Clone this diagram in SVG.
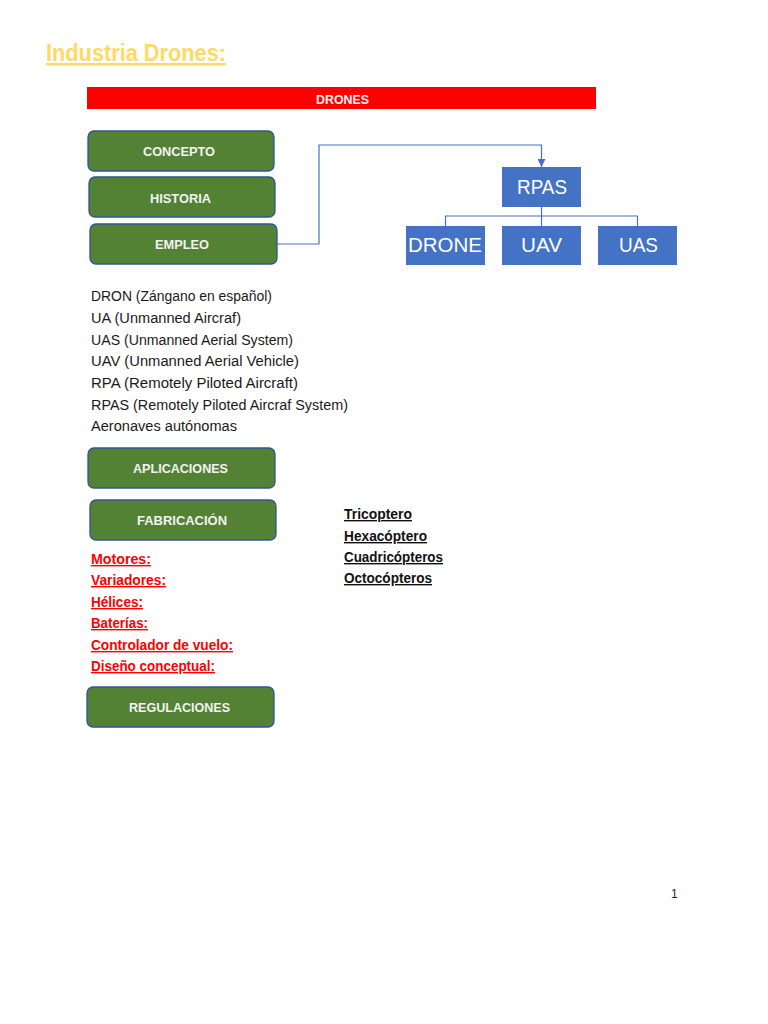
<svg xmlns="http://www.w3.org/2000/svg" width="768" height="1024" viewBox="0 0 768 1024">
<defs>
<style>
.g{fill:#548235;stroke:#2F5597;stroke-width:1.3}
.gt{font-family:"Liberation Sans",Arial,sans-serif;font-weight:bold;font-size:13px;fill:#F2F2F2;text-anchor:start}
.b{fill:#4472C4}
.bt{font-family:"Liberation Sans",Arial,sans-serif;font-size:21px;fill:#FFFFFF}
.lt{font-family:"Liberation Sans",Arial,sans-serif;font-size:14px;fill:#1a1a1a}
.rt{font-family:"Liberation Sans",Arial,sans-serif;font-size:14px;font-weight:bold;fill:#FF0000;text-decoration:underline}
.kt{font-family:"Liberation Sans",Arial,sans-serif;font-size:14px;font-weight:bold;fill:#111111;text-decoration:underline}
.ln{fill:none;stroke:#4472C4;stroke-width:1.2}
</style>
<marker id="arr" viewBox="0 0 10 10" refX="10" refY="5" markerWidth="8" markerHeight="8" markerUnits="userSpaceOnUse" orient="auto">
<path d="M0,0 L10,5 L0,10 z" fill="#4472C4"/>
</marker>
</defs>
<rect width="768" height="1024" fill="#FFFFFF"/>

<text x="46" y="61" font-family="Liberation Sans,Arial,sans-serif" font-size="24" font-weight="bold" fill="#FFD966" textLength="180" lengthAdjust="spacingAndGlyphs" text-decoration="underline">Industria Drones:</text>

<g id="drones-bar">
<rect x="87" y="87" width="509" height="22" fill="#FF0000"/>
<text x="316" y="104" font-family="Liberation Sans,Arial,sans-serif" font-size="12.5" font-weight="bold" fill="#F2F2F2" textLength="53" lengthAdjust="spacingAndGlyphs">DRONES</text>
</g>

<g id="concepto"><rect class="g" x="88" y="131" width="186" height="40" rx="6"/><text class="gt" x="143" y="156" textLength="72" lengthAdjust="spacingAndGlyphs">CONCEPTO</text></g>
<g id="historia"><rect class="g" x="89" y="177" width="186" height="40" rx="6"/><text class="gt" x="150" y="203" textLength="61" lengthAdjust="spacingAndGlyphs">HISTORIA</text></g>
<g id="empleo"><rect class="g" x="90" y="224" width="187" height="40" rx="6"/><text class="gt" x="155" y="249" textLength="54" lengthAdjust="spacingAndGlyphs">EMPLEO</text></g>

<g id="connectors">
<polyline class="ln" points="277,244 319,244 319,145 541.5,145 541.5,167" marker-end="url(#arr)"/>
<polyline class="ln" stroke-width="1.5" points="445.5,226 445.5,216 637.5,216 637.5,226"/>
<line class="ln" stroke-width="1.5" x1="541.5" y1="207" x2="541.5" y2="226"/>
</g>

<g id="rpas"><rect class="b" x="502" y="167" width="79" height="40"/><text class="bt" x="517" y="194" textLength="50" lengthAdjust="spacingAndGlyphs">RPAS</text></g>
<g id="drone"><rect class="b" x="406" y="226" width="79" height="39"/><text class="bt" x="408" y="252" textLength="74" lengthAdjust="spacingAndGlyphs">DRONE</text></g>
<g id="uav"><rect class="b" x="502" y="226" width="79" height="39"/><text class="bt" x="521" y="252" textLength="41" lengthAdjust="spacingAndGlyphs">UAV</text></g>
<g id="uas"><rect class="b" x="598" y="226" width="79" height="39"/><text class="bt" x="619" y="252" textLength="39" lengthAdjust="spacingAndGlyphs">UAS</text></g>

<g id="terms">
<text class="lt" x="91" y="301" textLength="181" lengthAdjust="spacingAndGlyphs">DRON (Zángano en español)</text>
<text class="lt" x="91" y="323" textLength="150" lengthAdjust="spacingAndGlyphs">UA (Unmanned Aircraf)</text>
<text class="lt" x="91" y="345" textLength="202" lengthAdjust="spacingAndGlyphs">UAS (Unmanned Aerial System)</text>
<text class="lt" x="91" y="366" textLength="208" lengthAdjust="spacingAndGlyphs">UAV (Unmanned Aerial Vehicle)</text>
<text class="lt" x="91" y="388" textLength="207" lengthAdjust="spacingAndGlyphs">RPA (Remotely Piloted Aircraft)</text>
<text class="lt" x="91" y="410" textLength="257" lengthAdjust="spacingAndGlyphs">RPAS (Remotely Piloted Aircraf System)</text>
<text class="lt" x="91" y="431" textLength="146" lengthAdjust="spacingAndGlyphs">Aeronaves autónomas</text>
</g>

<g id="aplicaciones"><rect class="g" x="88" y="448" width="187" height="40" rx="6"/><text class="gt" x="133" y="473" textLength="95" lengthAdjust="spacingAndGlyphs">APLICACIONES</text></g>
<g id="fabricacion"><rect class="g" x="90" y="500" width="186" height="40" rx="6"/><text class="gt" x="137" y="525" textLength="90" lengthAdjust="spacingAndGlyphs">FABRICACIÓN</text></g>

<g id="componentes">
<text class="rt" x="91" y="564" textLength="60" lengthAdjust="spacingAndGlyphs">Motores:</text>
<text class="rt" x="91" y="585" textLength="75" lengthAdjust="spacingAndGlyphs">Variadores:</text>
<text class="rt" x="91" y="607" textLength="52" lengthAdjust="spacingAndGlyphs">Hélices:</text>
<text class="rt" x="91" y="628" textLength="57" lengthAdjust="spacingAndGlyphs">Baterías:</text>
<text class="rt" x="91" y="650" textLength="142" lengthAdjust="spacingAndGlyphs">Controlador de vuelo:</text>
<text class="rt" x="91" y="671" textLength="124" lengthAdjust="spacingAndGlyphs">Diseño conceptual:</text>
</g>

<g id="tipos">
<text class="kt" x="344" y="519" textLength="68" lengthAdjust="spacingAndGlyphs">Tricoptero</text>
<text class="kt" x="344" y="541" textLength="83" lengthAdjust="spacingAndGlyphs">Hexacóptero</text>
<text class="kt" x="344" y="562" textLength="99" lengthAdjust="spacingAndGlyphs">Cuadricópteros</text>
<text class="kt" x="344" y="583" textLength="88" lengthAdjust="spacingAndGlyphs">Octocópteros</text>
</g>

<g id="regulaciones"><rect class="g" x="87" y="687" width="187" height="40" rx="6"/><text class="gt" x="129" y="712" textLength="101" lengthAdjust="spacingAndGlyphs">REGULACIONES</text></g>

<text x="671" y="898" font-family="Liberation Sans,Arial,sans-serif" font-size="12" fill="#222222">1</text>
</svg>
